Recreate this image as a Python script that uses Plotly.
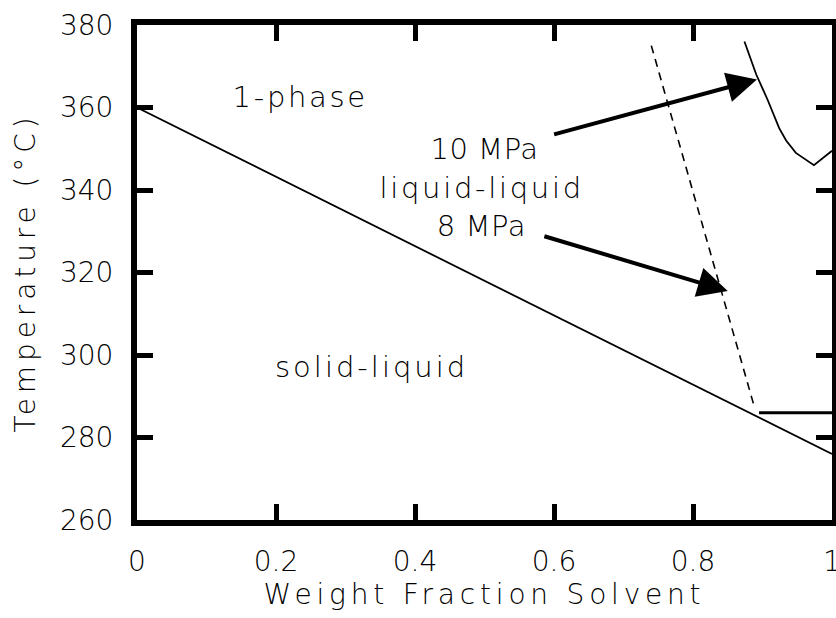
import plotly.graph_objects as go

# ---- data ----
solid_liquid_x = [0.0, 1.0]
solid_liquid_T = [360.0, 276.0]

ll_8mpa_x = [0.740, 0.889]
ll_8mpa_T = [375.0, 287.0]

ll_10mpa_x = [0.874, 0.891, 0.907, 0.924, 0.934, 0.948, 0.974, 1.0]
ll_10mpa_T = [376.0, 368.0, 362.0, 355.0, 352.0, 349.0, 346.0, 349.5]

three_phase_x = [0.895, 1.0]
three_phase_T = [286.0, 286.0]

x_ticks = [0, 0.2, 0.4, 0.6, 0.8, 1]
x_tick_labels = ["0", "0.2", "0.4", "0.6", "0.8", "1"]
y_ticks = [260, 280, 300, 320, 340, 360, 380]

FONT = "DejaVu Sans"
W = 200

fig = go.Figure()
fig.add_trace(go.Scatter(x=solid_liquid_x, y=solid_liquid_T, mode="lines",
                         line=dict(color="black", width=1.8), showlegend=False))
fig.add_trace(go.Scatter(x=ll_8mpa_x, y=ll_8mpa_T, mode="lines",
                         line=dict(color="black", width=1.6, dash="8px,6px"), showlegend=False))
fig.add_trace(go.Scatter(x=ll_10mpa_x, y=ll_10mpa_T, mode="lines",
                         line=dict(color="black", width=1.8), showlegend=False))
fig.add_trace(go.Scatter(x=three_phase_x, y=three_phase_T, mode="lines",
                         line=dict(color="black", width=3), showlegend=False))

txt = dict(family=FONT, size=29, color="black", weight=W)
annotations = [
    dict(x=0.235, y=362.5, text="1-phase", showarrow=False, font=txt),
    dict(x=0.500, y=350.0, text="10 MPa", showarrow=False, font=txt),
    dict(x=0.495, y=340.4, text="liquid-liquid", showarrow=False, font=txt),
    dict(x=0.495, y=331.3, text="8 MPa", showarrow=False, font=txt),
    dict(x=0.337, y=297.0, text="solid-liquid", showarrow=False, font=txt),
    # arrows
    dict(x=0.892, y=366.8, ax=0.598, ay=353.4, axref="x", ayref="y", xref="x", yref="y",
         text="", showarrow=True, arrowhead=2, arrowsize=1.5, arrowwidth=4, arrowcolor="black"),
    dict(x=0.850, y=315.5, ax=0.584, ay=328.9, axref="x", ayref="y", xref="x", yref="y",
         text="", showarrow=True, arrowhead=2, arrowsize=1.5, arrowwidth=4, arrowcolor="black"),
]

axis_common = dict(showline=True, linecolor="black", linewidth=6, mirror="allticks",
                   ticks="inside", ticklen=16, tickwidth=4.5, tickcolor="black",
                   showgrid=False, zeroline=False, automargin=False,
                   ticklabeloverflow="allow",
                   tickfont=dict(family=FONT, size=28, color="black", weight=W))

fig.update_xaxes(range=[0, 1], tickvals=x_ticks, ticktext=x_tick_labels,
                 title=dict(text="Weight Fraction Solvent",
                            font=dict(family=FONT, size=28, color="black", weight=W),
                            standoff=9),
                 ticklabelstandoff=11, **axis_common)
fig.update_yaxes(range=[260, 380], tickvals=y_ticks,
                 title=dict(text="Temperature (°C)",
                            font=dict(family=FONT, size=28, color="black", weight=W),
                            standoff=18),
                 ticklabelstandoff=12, **axis_common)

fig.update_layout(width=836, height=618, plot_bgcolor="white", paper_bgcolor="white",
                  margin=dict(l=137, r=4, t=25, b=98), annotations=annotations,
                  showlegend=False)

post = """
document.body.style.margin='0';
document.body.style.overflow='hidden';
var gd=document.getElementById('{plot_id}');
function spacing(){
  gd.querySelectorAll('text.xtitle').forEach(function(t){t.style.letterSpacing='4.8px';});
  gd.querySelectorAll('text.ytitle').forEach(function(t){t.style.letterSpacing='4.9px';});
  var a=[2.7,0.5,2.7,0.5,3.0];
  gd.querySelectorAll('g.annotation').forEach(function(g){
    var i=+g.getAttribute('data-index');
    if(i<a.length){g.querySelectorAll('text').forEach(function(t){t.style.letterSpacing=a[i]+'px';});}
  });
}
spacing();
gd.on && gd.on('plotly_afterplot', spacing);
"""

fig.write_html("out.html", post_script=post, config={"displayModeBar": False})
